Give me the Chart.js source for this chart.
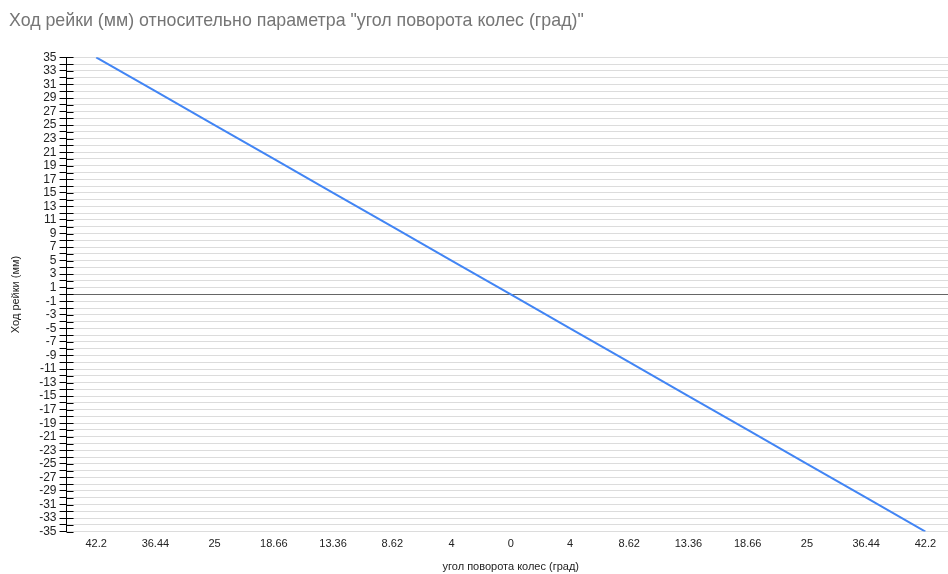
<!DOCTYPE html>
<html>
<head>
<meta charset="utf-8">
<script src="https://cdn.jsdelivr.net/npm/chart.js@4"></script>
<style>
  html, body { margin: 0; padding: 0; background: #fff; overflow: hidden; }
  #wrap { width: 948px; height: 574px; overflow: hidden; }
</style>
</head>
<body>
<div id="wrap"><canvas id="chart" width="955" height="574"></canvas></div>
<script>
// угол поворота колес (град) — подписи оси X
const angleLabels = ["42.2", "36.44", "25", "18.66", "13.36", "8.62", "4", "0", "4", "8.62", "13.36", "18.66", "25", "36.44", "42.2"];
// ход рейки (мм)
const rackTravel = [35, 30, 25, 20, 15, 10, 5, 0, -5, -10, -15, -20, -25, -30, -35];
const yMin = -35;
const yMax = 35;

const FONT = "Arial, 'Liberation Sans', sans-serif";

// tick marks crossing the y axis (inner half)
const crossTicks = {
  id: "crossTicks",
  afterDraw(chart) {
    const y = chart.scales.y;
    const ctx = chart.ctx;
    ctx.save();
    ctx.strokeStyle = "#000";
    ctx.lineWidth = 1;
    ctx.beginPath();
    y.ticks.forEach((t) => {
      const py = Math.round(y.getPixelForValue(t.value)) + 0.5;
      ctx.moveTo(y.right, py);
      ctx.lineTo(y.right + 7, py);
    });
    ctx.stroke();
    ctx.restore();
  },
};

new Chart(document.getElementById("chart"), {
  type: "line",
  data: {
    labels: angleLabels,
    datasets: [
      {
        label: "Ход рейки (мм)",
        data: rackTravel,
        borderColor: "#4285f4",
        borderWidth: 2,
        pointRadius: 0,
        tension: 0,
        fill: false,
      },
    ],
  },
  options: {
    responsive: false,
    animation: false,
    devicePixelRatio: 1,
    layout: { padding: { left: 9, top: 10, right: 0, bottom: 0 } },
    plugins: {
      legend: { display: false },
      tooltip: { enabled: false },
      title: {
        display: true,
        text: 'Ход рейки (мм) относительно параметра "угол поворота колес (град)"',
        align: "start",
        color: "#757575",
        font: { family: FONT, size: 17.8, weight: "normal" },
        padding: { top: 0, bottom: 26 },
      },
    },
    scales: {
      x: {
        offset: true,
        grid: { display: false, drawTicks: false },
        border: { display: false },
        ticks: {
          autoSkip: false,
          maxRotation: 0,
          color: "#222",
          padding: 6,
          font: { family: FONT, size: 11 },
        },
        title: {
          display: true,
          text: "угол поворота колес (град)",
          color: "#222",
          font: { family: FONT, size: 11 },
          padding: { top: 4, bottom: 0 },
        },
      },
      y: {
        min: yMin,
        max: yMax,
        grid: {
          color: (c) => (c.tick && c.tick.value === 0 ? "#666" : "#dcdcdc"),
          tickColor: "#000",
          tickLength: 7,
        },
        border: { display: true, color: "#000" },
        ticks: {
          stepSize: 1,
          autoSkip: false,
          color: "#222",
          padding: 3,
          font: { family: FONT, size: 12 },
          callback: (v) => (Math.abs(v) % 2 === 1 ? String(v) : ""),
        },
        title: {
          display: true,
          text: "Ход рейки (мм)",
          color: "#222",
          font: { family: FONT, size: 11 },
          padding: { top: 0, bottom: 14 },
        },
      },
    },
  },
  plugins: [crossTicks],
});
</script>
</body>
</html>
